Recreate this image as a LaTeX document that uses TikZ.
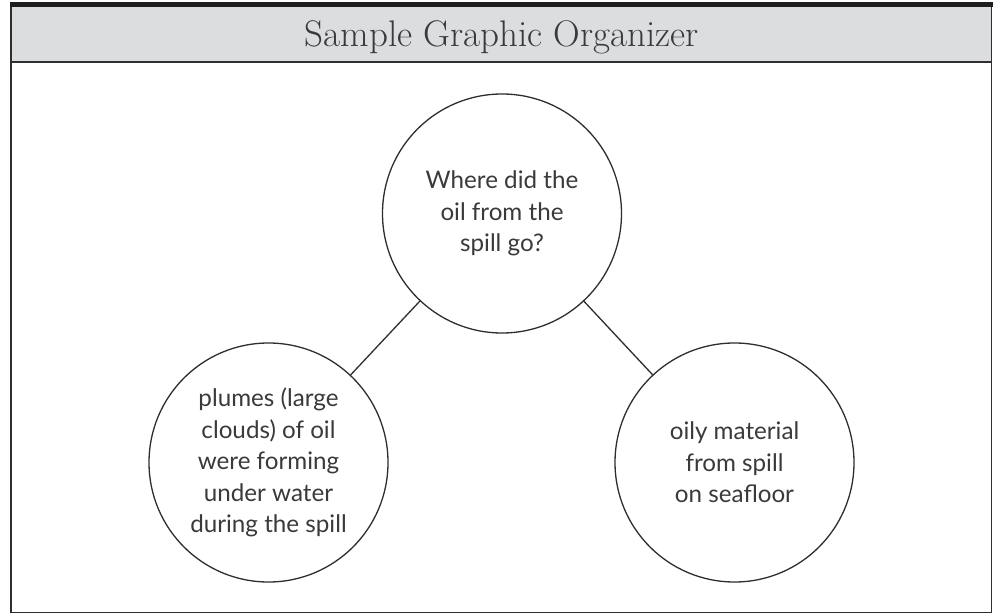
\documentclass[tikz,border=0pt]{standalone}
\usepackage{fontspec}
\setmainfont{Lato}
\newfontfamily\titlefont{Latin Modern Roman}
\definecolor{linec}{HTML}{2E2E2E}
\definecolor{txt}{HTML}{3A3A3A}
\definecolor{headgray}{HTML}{DCDDDF}
\definecolor{barc}{HTML}{1E1E1E}
\begin{document}
\begin{tikzpicture}[x=1pt,y=-1pt,
  bubble/.style={circle, draw=linec, line width=1.3pt, minimum size=239pt, inner sep=0pt, align=center, font=\fontsize{24.2}{31.5}\selectfont, text=txt},
  link/.style={draw=linec, line width=1.3pt},
  framec/.style={draw=linec, line width=1.6pt}]
\useasboundingbox (0,0) rectangle (996,615);
\fill[white] (0,0) rectangle (996,615);
% header
\fill[headgray] (11,7) rectangle (991.5,62);
\fill[barc] (10,2) rectangle (992.5,7.5);
\draw[framec] (11,7) -- (11,612.5) -- (991.5,612.5) -- (991.5,7);
\draw[draw=linec, line width=2pt] (11,62) -- (991.5,62);
\node[font=\titlefont\fontsize{37}{37}\selectfont, text=txt, anchor=base, inner sep=0pt] (title) at (501.7,46.7) {Sample Graphic Organizer};
% bubbles
\node[bubble] (q) at (502,213.5) {Where did the\\oil from the\\spill go?};
\node[bubble] (a) at (268.5,462.5) {plumes (large\\clouds) of oil\\were forming\\under water\\during the spill};
\node[bubble] (b) at (734.5,462.5) {oily material\\from spill\\on seafloor};
\draw[link] (q) -- (a);
\draw[link] (q) -- (b);
\end{tikzpicture}
\end{document}
